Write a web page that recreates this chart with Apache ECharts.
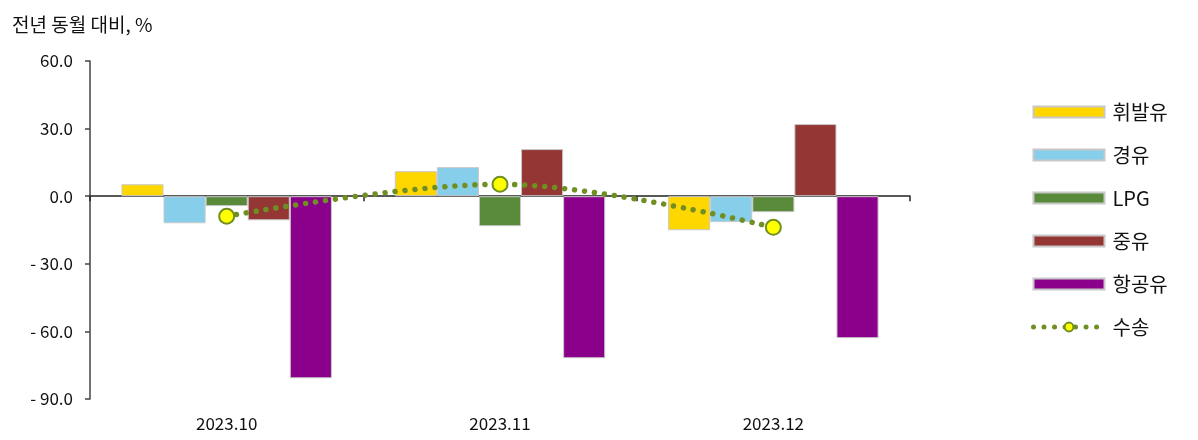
<!DOCTYPE html>
<html><head><meta charset="utf-8">
<script src="https://cdn.jsdelivr.net/npm/echarts@6/dist/echarts.min.js"></script>
<style>html,body{margin:0;padding:0;background:#fff}#c{width:1198px;height:440px}</style>
</head><body><div id="c"></div>
<script>
const categories = ['2023.10', '2023.11', '2023.12'];
const gasoline = [5.3, 11.1, -15.1];
const diesel = [-12.0, 12.9, -11.5];
const lpg = [-4.4, -13.3, -7.1];
const heavyOil = [-10.7, 20.9, 32.0];
const jetFuel = [-80.8, -71.9, -63.0];
const transport = [-8.9, 5.3, -13.8];
const seriesNames = ['휘발유', '경유', 'LPG', '중유', '항공유', '수송'];
const barColors = ['#FFD700', '#87CEEB', '#588A3A', '#943634', '#8B008B'];
const font = '"Noto Sans CJK KR", "Noto Sans", sans-serif';

const chart = echarts.init(document.getElementById('c'), null, {renderer: 'canvas'});
const barData = [gasoline, diesel, lpg, heavyOil, jetFuel];
const series = barData.map((d, i) => ({
  name: seriesNames[i], type: 'bar', data: d, barGap: '0%', barCategoryGap: '23%',
  itemStyle: {color: barColors[i], borderColor: '#C8C8C8', borderWidth: 1},
  emphasis: {disabled: true}
}));
series.push({
  name: seriesNames[5], type: 'line', data: transport, smooth: 0.35, z: 5,
  symbol: 'circle', symbolSize: 15,
  lineStyle: {color: '#6F8F22', width: 5.5, type: [0.01, 10], cap: 'round'},
  itemStyle: {color: '#FFFF00', borderColor: '#6F8F22', borderWidth: 2},
  emphasis: {disabled: true}
});

chart.setOption({
  animation: false,
  textStyle: {fontFamily: font},
  title: {text: '전년 동월 대비, %', left: 7, top: 10, textStyle: {fontSize: 19, fontWeight: 'normal', color: '#111', fontFamily: font}},
  grid: {left: 90, right: 288, top: 61, bottom: 41, containLabel: false, outerBoundsMode: 'none'},
  legend: {
    orient: 'vertical', left: 1031, top: 102, padding: 0, itemGap: 23,
    itemWidth: 71, itemHeight: 11,
    textStyle: {fontSize: 20, color: '#111', fontFamily: font, padding: [0, 0, 0, 3], lineHeight: 20},
    data: seriesNames.map((n, i) => i < 5 ? {name: n, icon: 'rect'} : {
      name: n,
      lineStyle: {color: '#6F8F22', width: 5, type: [0.01, 10.5], cap: 'round'},
      itemStyle: {color: '#FFFF00', borderColor: '#6F8F22', borderWidth: 2}
    })
  },
  xAxis: [{
    type: 'category', data: categories,
    axisLine: {onZero: true, lineStyle: {color: '#222', width: 1.5}},
    axisTick: {show: true, length: 5, inside: false, lineStyle: {color: '#222', width: 1.5}},
    axisLabel: {show: false},
    splitLine: {show: false}
  }, {
    type: 'category', data: categories, position: 'bottom',
    axisLine: {show: false, onZero: false}, axisTick: {show: false},
    axisLabel: {margin: 16, fontSize: 17, color: '#111', fontFamily: font},
    splitLine: {show: false}
  }],
  yAxis: {
    type: 'value', min: -90, max: 60, interval: 30,
    axisLine: {show: true, lineStyle: {color: '#444', width: 1.5}},
    axisTick: {show: true, length: 5, lineStyle: {color: '#444', width: 1.5}},
    axisLabel: {fontSize: 17, color: '#111', margin: 17, fontFamily: font,
      formatter: v => v < 0 ? '- ' + Math.abs(v).toFixed(1) : v.toFixed(1)},
    splitLine: {show: false}
  },
  series: series
});
</script></body></html>
